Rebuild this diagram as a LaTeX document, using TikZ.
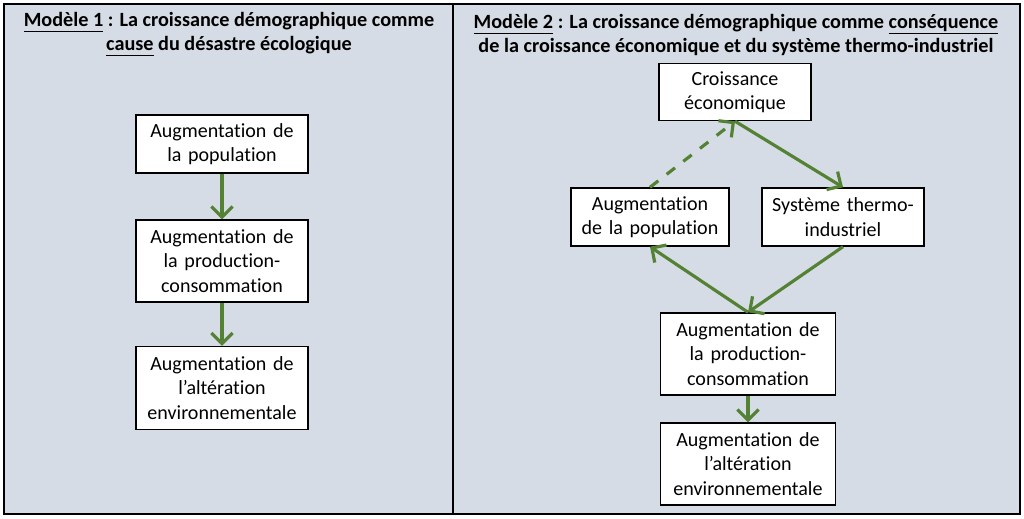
\documentclass[tikz,border=0pt]{standalone}
\usepackage{fontspec}
\setmainfont{Carlito}[Ligatures=NoCommon]
\usetikzlibrary{arrows.meta}
\definecolor{panelbg}{HTML}{D6DCE5}
\definecolor{arrowgreen}{HTML}{548235}
\newcommand\souligne[1]{\underline{\raisebox{0pt}[\height][0pt]{#1}}}
\tikzset{
  boite/.style={draw=black, fill=white, align=center, inner sep=0pt, font=\fontsize{5.7}{6.9}\selectfont},
  fleche/.style={arrowgreen, line width=0.9pt, -{Straight Barb[length=3pt,width=6pt]}},
  titre/.style={align=center, font=\bfseries\fontsize{5.75}{6.9}\selectfont}
}
\begin{document}
\begin{tikzpicture}[x=0.01cm,y=-0.01cm]
        \useasboundingbox (0,0) rectangle (1024,519);

        % Panneaux
        \draw[fill=panelbg] (4,4) rectangle (453,514);
        \draw[fill=panelbg] (453,4) rectangle (1020,514);

        % Titres
        \node[titre] (t1) at (229,35) {\souligne{Modèle 1} : La croissance démographique comme\\\souligne{cause} du désastre écologique};
        \node[titre] (t2) at (736,35) {\souligne{Modèle 2} : La croissance démographique comme \souligne{conséquence}\\de la croissance économique et du système thermo-industriel};

        % Modèle 1
        \node[boite, text width=1.72cm, minimum height=0.58cm] (pop1) at (222,144) {Augmentation de\\la population};
        \node[boite, text width=1.72cm, minimum height=0.82cm] (prod1) at (222,261) {Augmentation de\\la production-\\consommation};
        \node[boite, text width=1.72cm, minimum height=0.83cm] (alt1) at (222,388) {Augmentation de\\l’altération\\environnementale};
        \draw[fleche] (pop1) -- (prod1);
        \draw[fleche] (prod1) -- (alt1);

        % Modèle 2
        \node[boite, text width=1.52cm, minimum height=0.57cm] (eco) at (735,92) {Croissance\\économique};
        \node[boite, text width=1.58cm, minimum height=0.58cm] (pop2) at (650,217) {Augmentation\\de la population};
        \node[boite, text width=1.62cm, minimum height=0.58cm] (thermo) at (843,217) {Système thermo-\\industriel};
        \node[boite, text width=1.75cm, minimum height=0.82cm] (prod2) at (748,354) {Augmentation de\\la production-\\consommation};
        \node[boite, text width=1.75cm, minimum height=0.82cm] (alt2) at (748,464) {Augmentation de\\l’altération\\environnementale};
        \draw[fleche, dashed] (pop2.north) -- (eco.south);
        \draw[fleche] (eco.south) -- (thermo.north);
        \draw[fleche] (prod2.north) -- (pop2.south);
        \draw[fleche] (thermo.south) -- (prod2.north);
        \draw[fleche] (prod2) -- (alt2);

\end{tikzpicture}
\end{document}
